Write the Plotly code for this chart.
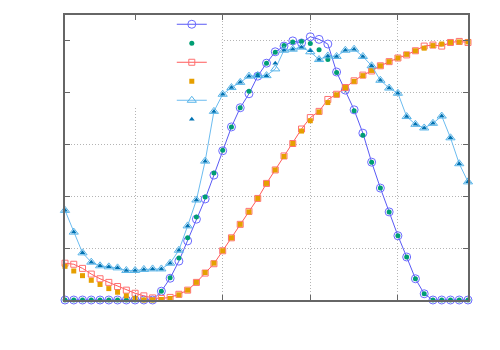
import plotly.graph_objects as go

x_vals = list(range(2, 49))

s1_circles = [0]*11 + [0.17, 0.42, 0.75, 1.14, 1.56, 1.95, 2.41, 2.88, 3.34, 3.71, 3.98, 4.32, 4.57, 4.79, 4.90,
                       5.00, 4.96, 5.08, 5.03, 4.94, 4.40, 4.05, 3.67, 3.22, 2.66, 2.16, 1.70, 1.24, 0.83, 0.41,
                       0.12] + [0]*5
s2_dots = [0]*11 + [0.17, 0.43, 0.81, 1.20, 1.60, 1.99, 2.45, 2.89, 3.34, 3.71, 4.03, 4.34, 4.57, 4.78, 4.91,
                    4.98, 4.99, 4.95, 4.83, 4.64, 4.39, 4.07, 3.65, 3.18, 2.66, 2.16, 1.70, 1.24, 0.83, 0.41,
                    0.12] + [0]*5
s3_open_sq = [0.71, 0.69, 0.61, 0.50, 0.41, 0.34, 0.26, 0.19, 0.13, 0.08, 0.04, 0.03, 0.05, 0.11, 0.19, 0.34,
              0.52, 0.70, 0.95, 1.20, 1.46, 1.71, 1.96, 2.25, 2.51, 2.78, 3.02, 3.30, 3.52, 3.64, 3.87, 3.97,
              4.10, 4.23, 4.34, 4.42, 4.52, 4.60, 4.67, 4.73, 4.81, 4.90, 4.92, 4.90, 4.97, 4.99, 4.97]
s4_fill_sq = [0.65, 0.56, 0.47, 0.38, 0.30, 0.22, 0.15, 0.08, 0.03, 0.00, 0.00, 0.01, 0.03, 0.10, 0.19, 0.34,
              0.53, 0.71, 0.95, 1.20, 1.46, 1.70, 1.96, 2.25, 2.51, 2.77, 3.02, 3.26, 3.46, 3.63, 3.81, 3.96,
              4.10, 4.22, 4.33, 4.43, 4.52, 4.60, 4.67, 4.74, 4.81, 4.86, 4.91, 4.94, 4.97, 4.98, 4.98]
s5_open_tri = [1.73, 1.31, 0.91, 0.73, 0.66, 0.64, 0.62, 0.57, 0.57, 0.59, 0.60, 0.60, 0.71, 0.96, 1.43, 1.93,
               2.68, 3.64, 3.97, 4.10, 4.20, 4.32, 4.33, 4.33, 4.46, 4.82, 4.84, 4.88, 4.79, 4.64, 4.71, 4.70,
               4.82, 4.84, 4.70, 4.52, 4.24, 4.09, 3.99, 3.54, 3.39, 3.32, 3.41, 3.55, 3.13, 2.63, 2.28]
s6_fill_tri = [1.73, 1.31, 0.91, 0.73, 0.66, 0.64, 0.62, 0.57, 0.57, 0.59, 0.60, 0.60, 0.71, 0.96, 1.43, 1.93,
               2.68, 3.64, 3.97, 4.10, 4.20, 4.32, 4.33, 4.33, 4.57, 4.82, 4.84, 4.88, 4.81, 4.64, 4.71, 4.70,
               4.82, 4.84, 4.70, 4.52, 4.24, 4.09, 3.99, 3.54, 3.39, 3.32, 3.41, 3.55, 3.13, 2.63, 2.28]

x_ticks = [10, 20, 30, 40]
y_ticks = [1, 2, 3, 4, 5]

fig = go.Figure()
fig.add_trace(go.Scatter(x=x_vals, y=s1_circles, name="", mode="lines+markers", cliponaxis=False,
                         line=dict(color="#5a5af5", width=1),
                         marker=dict(symbol="circle-open", size=8, color="#6a6aff", line=dict(width=1))))
fig.add_trace(go.Scatter(x=x_vals, y=s2_dots, name="", mode="markers", cliponaxis=False,
                         marker=dict(symbol="circle", size=5, color="#009e73")))
fig.add_trace(go.Scatter(x=x_vals, y=s3_open_sq, name="", mode="lines+markers", cliponaxis=False,
                         line=dict(color="#ff5a5a", width=1),
                         marker=dict(symbol="square-open", size=6, color="#ff7070", line=dict(width=1))))
fig.add_trace(go.Scatter(x=x_vals, y=s4_fill_sq, name="", mode="markers", cliponaxis=False,
                         marker=dict(symbol="square", size=5, color="#e69f00")))
fig.add_trace(go.Scatter(x=x_vals, y=s5_open_tri, name="", mode="lines+markers", cliponaxis=False,
                         line=dict(color="#6cbcf0", width=1),
                         marker=dict(symbol="triangle-up-open", size=8, color="#56b4e9", line=dict(width=1))))
fig.add_trace(go.Scatter(x=x_vals, y=s6_fill_tri, name="", mode="markers", cliponaxis=False,
                         marker=dict(symbol="triangle-up", size=5, color="#0072b2")))

axis_common = dict(showline=True, linecolor="#666666", linewidth=1.5, mirror="ticks",
                   ticks="inside", ticklen=5, tickcolor="#666666", showticklabels=False,
                   showgrid=True, gridcolor="#b4b4b4", griddash="1px,2px", gridwidth=1, zeroline=False)

fig.update_xaxes(range=[2, 48], tickvals=x_ticks, **axis_common)
fig.update_yaxes(range=[0, 5.5], tickvals=y_ticks, **axis_common)

# opaque key box hiding the grid behind the legend
fig.add_shape(type="rect", xref="x", yref="y", x0=2.1, x1=19.9, y0=3.72, y1=5.45,
              fillcolor="white", line=dict(width=0), layer="between")

fig.update_layout(
    width=500, height=350,
    margin=dict(l=57, r=40, t=7, b=58, autoexpand=False),
    plot_bgcolor="white", paper_bgcolor="white",
    showlegend=True,
    legend=dict(x=0.265, y=0.995, xanchor="left", yanchor="top", yref="container",
                bgcolor="rgba(0,0,0,0)", font=dict(size=8), borderwidth=0),
)

fig.write_html("out.html")
